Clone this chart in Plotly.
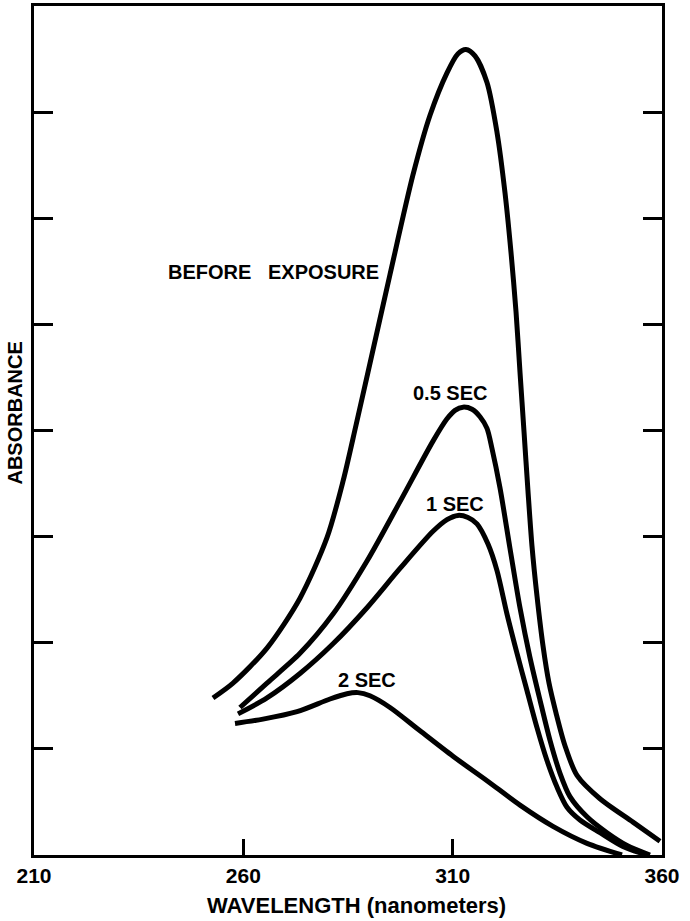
import plotly.graph_objects as go

# Absorption spectra: wavelength (nm) vs absorbance (arbitrary units)
before_nm = [252.75, 257.53, 265.65, 273.53, 279.98, 283.80, 286.91, 289.78, 295.03, 300.53,
             304.59, 308.65, 311.27, 313.18, 315.33, 318.20, 320.59, 322.50, 323.93, 325.13,
             326.08, 327.04, 327.99, 328.95, 330.14, 331.58, 333.01, 334.68, 336.83, 339.70,
             345.19, 353.07, 359.52]
before_abs = [1.48, 1.62, 1.95, 2.42, 2.99, 3.52, 4.05, 4.55, 5.47, 6.41,
              6.97, 7.37, 7.55, 7.59, 7.53, 7.28, 6.81, 6.24, 5.68, 5.12,
              4.55, 3.99, 3.43, 2.91, 2.44, 1.97, 1.62, 1.34, 1.03, 0.75,
              0.53, 0.31, 0.13]

sec05_nm = [259.20, 265.65, 273.53, 281.42, 289.54, 297.42, 305.30, 308.65, 310.56, 312.47,
            314.62, 316.53, 318.20, 319.39, 321.30, 323.69, 326.08, 328.47, 330.86, 333.25,
            335.64, 338.02, 342.09, 346.86, 351.64, 357.13]
sec05_abs = [1.39, 1.62, 1.90, 2.27, 2.77, 3.33, 3.90, 4.11, 4.19, 4.22,
             4.20, 4.13, 4.02, 3.83, 3.46, 2.89, 2.33, 1.86, 1.46, 1.08,
             0.77, 0.55, 0.36, 0.21, 0.09, 0.0]

sec1_nm = [258.73, 265.65, 273.53, 281.42, 289.54, 297.42, 305.30, 308.65, 311.27, 313.66,
           315.81, 318.44, 320.59, 322.98, 325.37, 327.75, 330.14, 332.53, 334.92, 337.31,
           340.41, 345.19, 350.68, 356.42]
sec1_abs = [1.33, 1.48, 1.71, 1.99, 2.33, 2.70, 3.05, 3.16, 3.20, 3.18,
            3.12, 2.93, 2.68, 2.27, 1.90, 1.55, 1.20, 0.89, 0.64, 0.45,
            0.33, 0.21, 0.08, 0.0]

sec2_nm = [258.01, 264.70, 272.82, 280.70, 284.76, 287.39, 290.25, 295.03, 302.20, 310.08,
           318.20, 326.08, 333.96, 342.09, 350.44]
sec2_abs = [1.24, 1.28, 1.35, 1.47, 1.52, 1.53, 1.50, 1.39, 1.17, 0.93,
            0.70, 0.47, 0.27, 0.11, 0.0]

x_ticks = [210, 260, 310, 360]
y_ticks = [1, 2, 3, 4, 5, 6, 7]

FONT = "Liberation Sans"

fig = go.Figure()
for xs, ys in [(before_nm, before_abs), (sec05_nm, sec05_abs),
               (sec1_nm, sec1_abs), (sec2_nm, sec2_abs)]:
    fig.add_trace(go.Scatter(
        x=xs, y=ys, mode="lines",
        line=dict(color="black", width=5, shape="spline", smoothing=0.8),
        showlegend=False, hoverinfo="skip",
    ))

# Curve labels
curve_labels = [
    ("BEFORE\u00a0\u00a0\u00a0EXPOSURE", 267.3, 5.49),
    ("0.5\u00a0SEC", 309.4, 4.35),
    ("1 SEC", 310.6, 3.31),
    ("2 SEC", 289.5, 1.65),
]
for text, x, y in curve_labels:
    fig.add_annotation(x=x, y=y, xref="x", yref="y", text=text, showarrow=False,
                       xanchor="center", yanchor="middle",
                       font=dict(family=FONT, size=20, color="black", weight="bold"))

# Axis titles
fig.add_annotation(x=0.514, y=-0.0595, xref="paper", yref="paper",
                   text="WAVELENGTH (nanometers)", showarrow=False,
                   xanchor="center", yanchor="middle",
                   font=dict(family=FONT, size=22, color="black", weight="bold"))
fig.add_annotation(x=0, y=0.52, xref="paper", yref="paper",
                   text="ABSORBANCE", showarrow=False, textangle=-90,
                   xanchor="center", yanchor="middle", xshift=-19,
                   font=dict(family=FONT, size=20, color="black", weight="bold"))

fig.update_xaxes(
    range=[210, 360], showline=True, linecolor="black", linewidth=3, mirror=True,
    ticks="inside", tickvals=x_ticks, ticktext=[str(v) for v in x_ticks],
    ticklen=16, tickwidth=2.5, tickcolor="black",
    showgrid=False, zeroline=False,
    tickfont=dict(family=FONT, size=21, color="black", weight="bold"),
)
fig.update_yaxes(
    range=[0, 8], showline=True, linecolor="black", linewidth=3, mirror="ticks",
    ticks="inside", tickvals=y_ticks, ticklen=19, tickwidth=2.5, tickcolor="black",
    showticklabels=False, showgrid=False, zeroline=False,
)
fig.update_layout(
    width=690, height=921,
    margin=dict(l=34, r=28, t=3, b=66),
    paper_bgcolor="white", plot_bgcolor="white",
)

fig.write_html("out.html")
